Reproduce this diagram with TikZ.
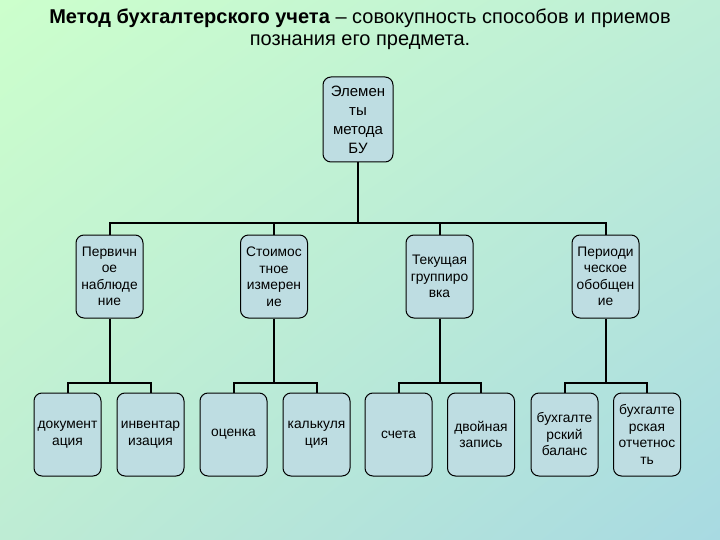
\documentclass[tikz,border=0pt]{standalone}
\usepackage{fontspec}
\usetikzlibrary{shadings}
\setmainfont{Liberation Sans}
\definecolor{bgTL}{RGB}{204,255,204}
\definecolor{bgTR}{RGB}{190,238,215}
\definecolor{bgBL}{RGB}{190,236,212}
\definecolor{bgBR}{RGB}{168,218,226}
\definecolor{boxfill}{RGB}{190,221,226}
\tikzset{
  elbox/.style={draw=black, line width=1pt, fill=boxfill, rounded corners=8pt,
    minimum width=67pt, minimum height=83pt, inner sep=1pt, align=center,
    font=\fontsize{13.8}{16.5}\selectfont},
  conn/.style={draw=black, line width=2pt},
  titletext/.style={font=\fontsize{20}{24}\selectfont, inner sep=0pt}
}
\begin{document}
\begin{tikzpicture}[x=1pt,y=-1pt]
\useasboundingbox (0,0) rectangle (720,540);
\shade[upper left=bgTL, upper right=bgTR, lower left=bgBL, lower right=bgBR] (0,0) rectangle (720,540);
\node[titletext] (t1) at (360,18) {\textbf{Метод бухгалтерского учета} – совокупность способов и приемов};
\node[titletext] (t2) at (360,42) {познания его предмета.};

\coordinate (bar1) at (0,223);
\coordinate (bar2) at (0,383);

\node[elbox, minimum width=70pt, minimum height=85pt, font=\fontsize{15}{19}\selectfont] (root) at (358,119.5) {Элемен\\ты\\метода\\БУ};

\node[elbox] (p1) at (109.5,276.5) {Первичн\\ое\\наблюде\\ние};
\node[elbox] (p2) at (274,276.5) {Стоимос\\тное\\измерен\\ие};
\node[elbox] (p3) at (439.5,276.5) {Текущая\\группиро\\вка};
\node[elbox] (p4) at (605.5,276.5) {Периоди\\ческое\\обобщен\\ие};

\node[elbox] (c1) at (67.5,434.5) {документ\\ация};
\node[elbox] (c2) at (150.5,434.5) {инвентар\\изация};
\node[elbox] (c3) at (233.5,434.5) {оценка};
\node[elbox] (c4) at (316.5,434.5) {калькуля\\ция};
\node[elbox] (c5) at (398.5,434.5) {счета};
\node[elbox] (c6) at (481,434.5) {двойная\\запись};
\node[elbox] (c7) at (564.5,434.5) {бухгалте\\рский\\баланс};
\node[elbox] (c8) at (647,434.5) {бухгалте\\рская\\отчетнос\\ть};

\draw[conn] (root.south) -- (root.south |- bar1);
\draw[conn] (p1.north) -- (p1.north |- bar1) -- (p4.north |- bar1) -- (p4.north);
\draw[conn] (p2.north) -- (p2.north |- bar1);
\draw[conn] (p3.north) -- (p3.north |- bar1);

\draw[conn] (p1.south) -- (p1.south |- bar2);
\draw[conn] (c1.north) -- (c1.north |- bar2) -- (c2.north |- bar2) -- (c2.north);
\draw[conn] (p2.south) -- (p2.south |- bar2);
\draw[conn] (c3.north) -- (c3.north |- bar2) -- (c4.north |- bar2) -- (c4.north);
\draw[conn] (p3.south) -- (p3.south |- bar2);
\draw[conn] (c5.north) -- (c5.north |- bar2) -- (c6.north |- bar2) -- (c6.north);
\draw[conn] (p4.south) -- (p4.south |- bar2);
\draw[conn] (c7.north) -- (c7.north |- bar2) -- (c8.north |- bar2) -- (c8.north);
\end{tikzpicture}
\end{document}
